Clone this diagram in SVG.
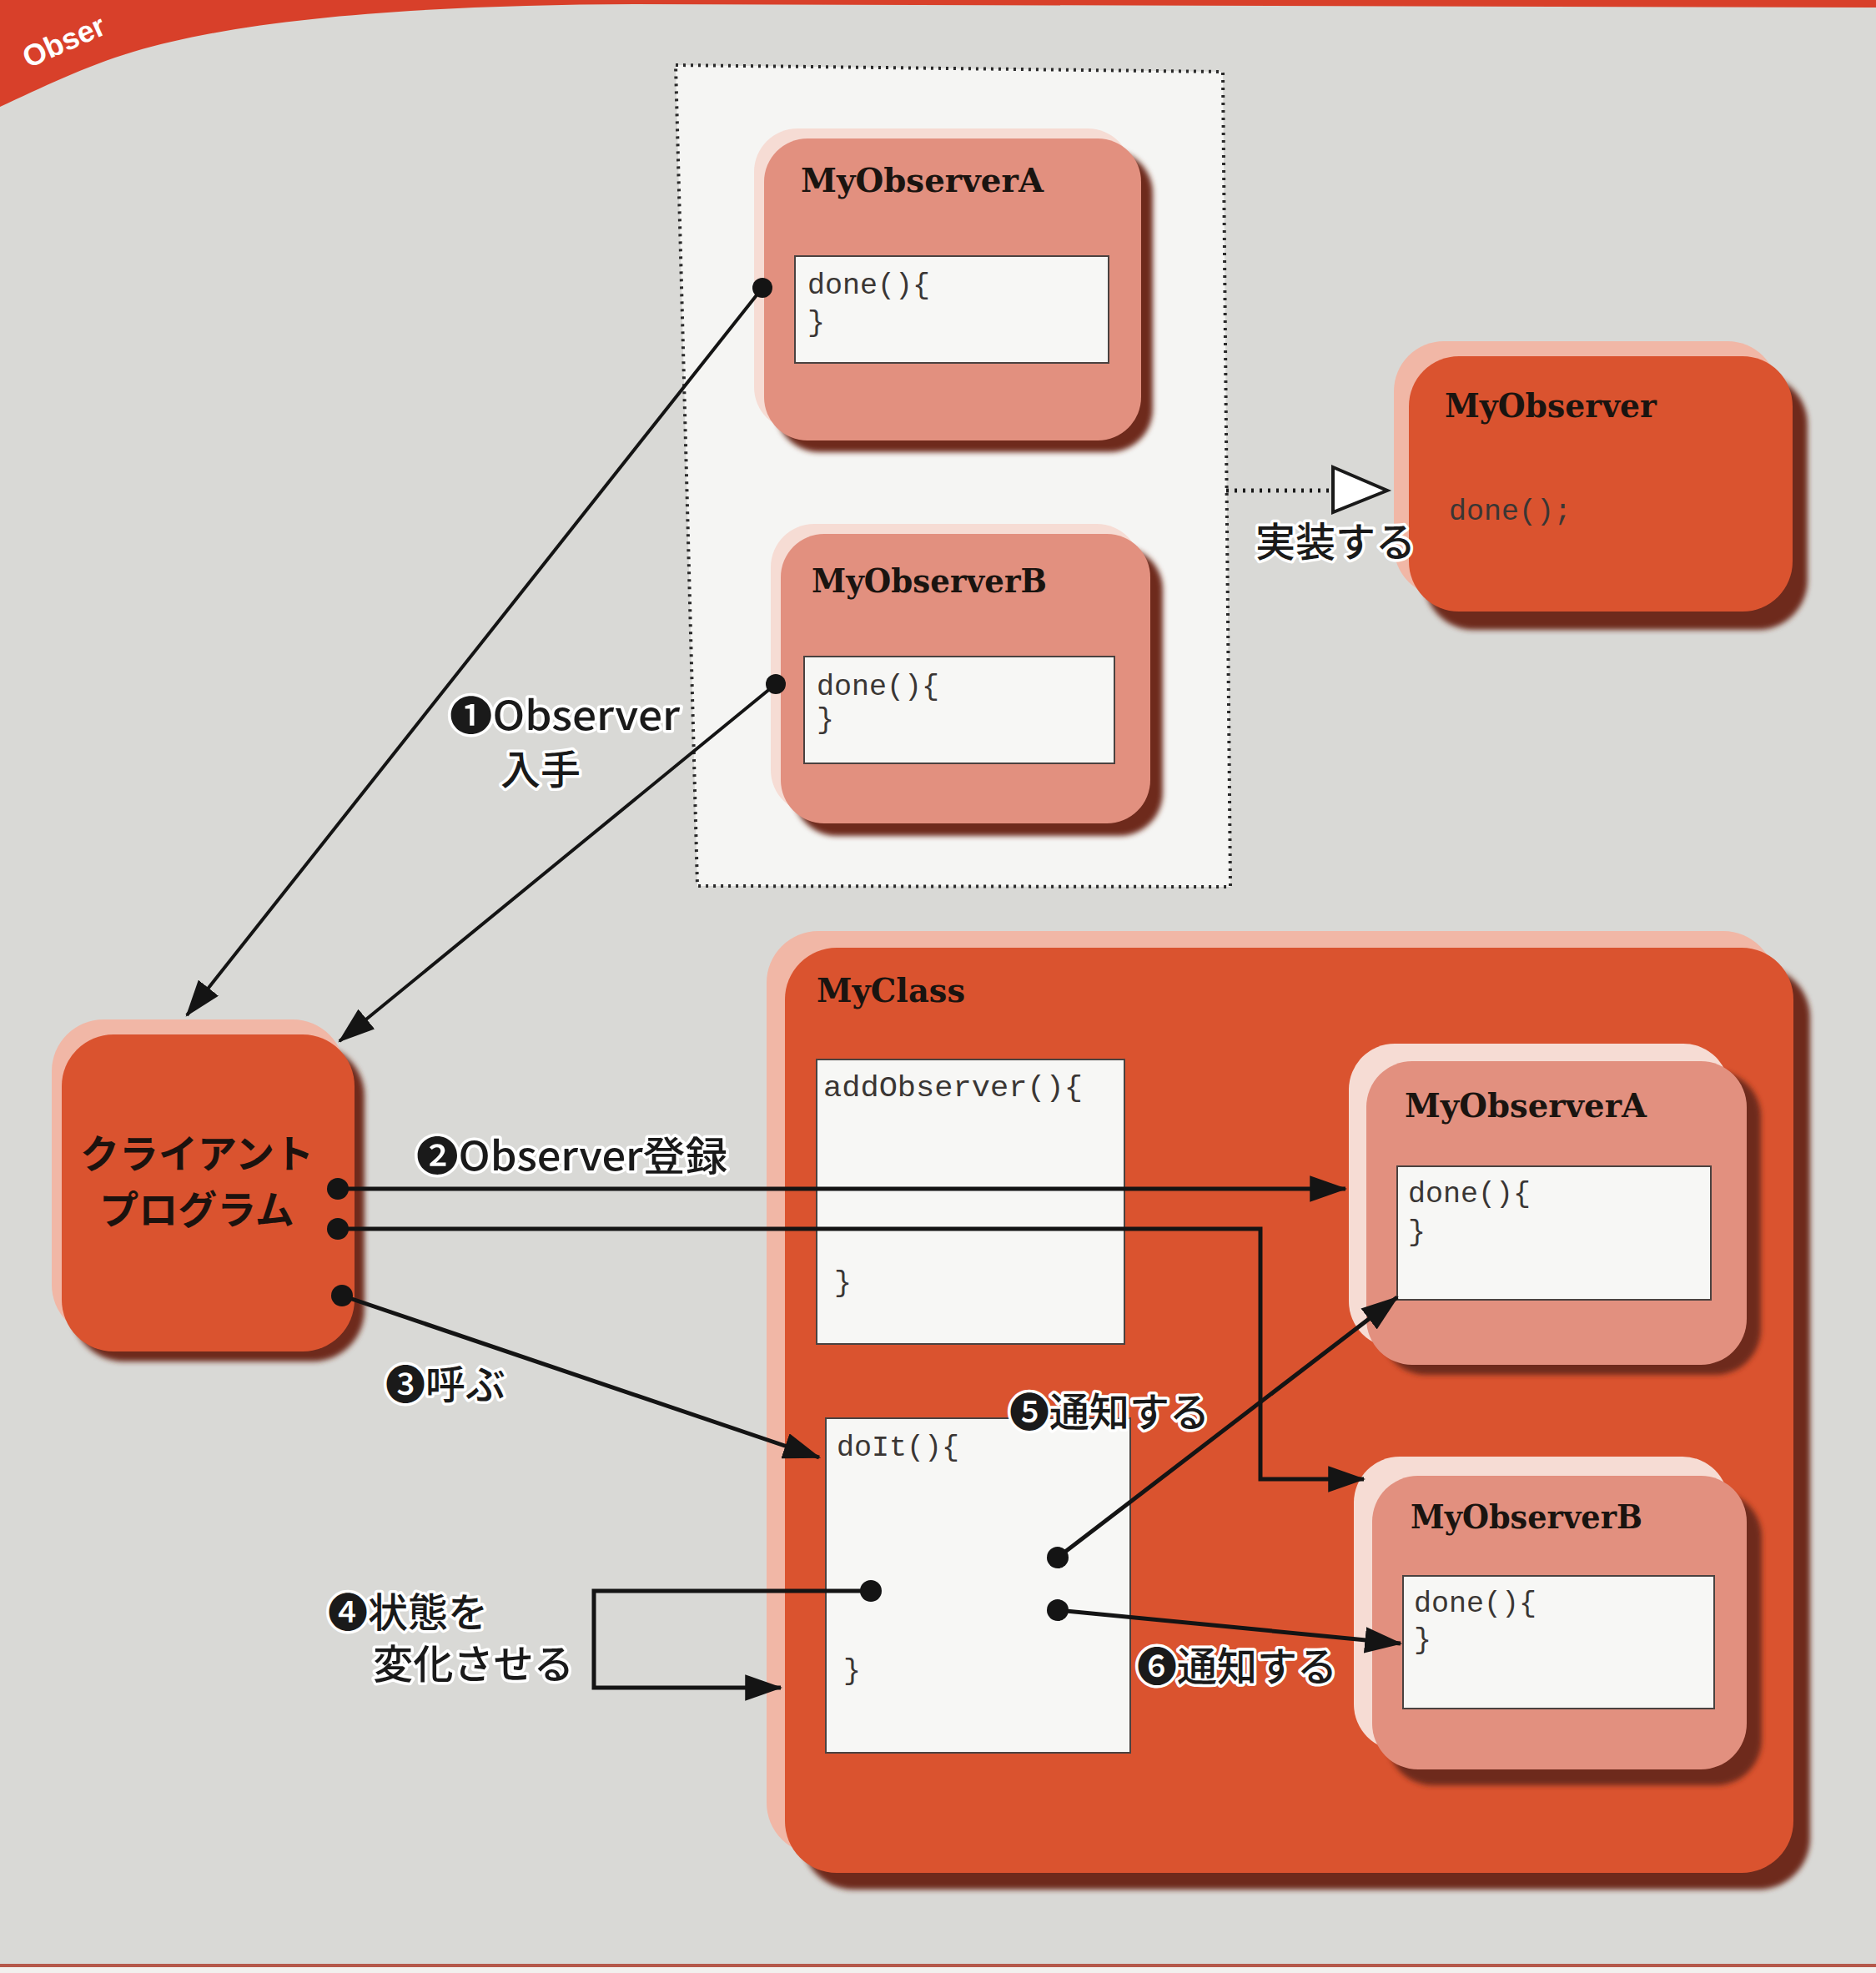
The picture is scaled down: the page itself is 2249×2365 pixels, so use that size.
<svg xmlns="http://www.w3.org/2000/svg" width="2249" height="2365" viewBox="0 0 2249 2365">
<style>
.title{font-family:"DejaVu Serif","Liberation Serif",serif;font-weight:bold;font-size:40px;fill:#1a1410}
.code{font-family:"Liberation Mono","DejaVu Sans Mono",monospace;font-size:35px;fill:#3a3634}
.lbl{font-family:"Noto Sans CJK JP","Noto Sans",sans-serif;font-weight:500;font-size:48px;fill:#1a1a1a;stroke:#ffffff;stroke-width:7px;stroke-linejoin:round;paint-order:stroke}
.clientTxt{font-family:"Noto Sans CJK JP",sans-serif;font-weight:bold;font-size:47px;fill:#1c120e;text-anchor:middle}
.salmon{fill:#e2907f}
.orange{fill:#da532f}
.hlS{fill:#f6dcd4}
.hlO{fill:#f1b7a6}
.sh{fill:#6e2a1c;filter:url(#soft)}
.wbox{fill:#f7f7f5;stroke:#4a4240;stroke-width:2}
.conn{fill:none;stroke:#141414;stroke-width:5}
.thin{fill:none;stroke:#141414;stroke-width:4}
.dot{fill:#141414}
</style>
<defs>
<filter id="soft" x="-10%" y="-10%" width="120%" height="120%"><feGaussianBlur stdDeviation="3"/></filter>
<marker id="arr" viewBox="0 0 10 7" refX="9.5" refY="3.5" markerWidth="9" markerHeight="6.3" markerUnits="strokeWidth" orient="auto"><path d="M0,0 L10,3.5 L0,7 Z" fill="#141414"/></marker>
<marker id="arrT" viewBox="0 0 10 7" refX="9.5" refY="3.5" markerWidth="11" markerHeight="7.7" markerUnits="strokeWidth" orient="auto"><path d="M0,0 L10,3.5 L0,7 Z" fill="#141414"/></marker>
</defs>

<!-- page background -->
<rect x="0" y="0" width="2249" height="2365" fill="#d9d9d6"/>
<path d="M0,0 L2249,0 L2249,9 L760,5 C520,6 300,20 160,62 C100,80 50,105 0,128 Z" fill="#d8402a"/>
<text x="34" y="82" transform="rotate(-24 34 82)" font-family="Liberation Sans,Arial,sans-serif" font-weight="bold" font-size="36" fill="#ffffff">Obser</text>
<rect x="0" y="2354" width="2249" height="4" fill="#b5584a"/>
<rect x="0" y="2358" width="2249" height="7" fill="#f2f0ee"/>

<!-- dotted implementation area -->
<g id="observers-area">
<polygon points="810,78 1466,86 1475,1063 836,1062" fill="#f5f5f3" stroke="#2a2a2a" stroke-width="4" stroke-dasharray="3,6"/>
</g>

<!-- MyObserverA (top) -->
<g id="myObserverA-top">
<rect class="sh" x="930" y="180" width="452" height="362" rx="52"/>
<rect class="hlS" x="904" y="154" width="452" height="362" rx="52"/>
<rect class="salmon" x="916" y="166" width="452" height="362" rx="52"/>
<text class="title" x="960" y="230" textLength="291" lengthAdjust="spacingAndGlyphs">MyObserverA</text>
<rect class="wbox" x="953" y="307" width="376" height="128"/>
<text class="code" x="968" y="352">done(){</text>
<text class="code" x="968" y="397">}</text>
</g>

<!-- MyObserverB (top) -->
<g id="myObserverB-top">
<rect class="sh" x="951" y="655" width="443" height="347" rx="52"/>
<rect class="hlS" x="924" y="628" width="443" height="347" rx="52"/>
<rect class="salmon" x="936" y="640" width="443" height="347" rx="52"/>
<text class="title" x="973" y="710" textLength="282" lengthAdjust="spacingAndGlyphs">MyObserverB</text>
<rect class="wbox" x="964" y="787" width="372" height="128"/>
<text class="code" x="979" y="833">done(){</text>
<text class="code" x="979" y="873">}</text>
</g>

<!-- MyObserver interface -->
<g id="myObserver">
<rect class="sh" x="1707" y="449" width="460" height="306" rx="60"/>
<rect class="hlO" x="1671" y="409" width="460" height="306" rx="60"/>
<rect class="orange" x="1689" y="427" width="460" height="306" rx="60"/>
<text class="title" x="1732" y="500" textLength="254" lengthAdjust="spacingAndGlyphs">MyObserver</text>
<text class="code" x="1737" y="623" fill="#4a2418">done();</text>
</g>

<!-- Client program -->
<g id="client">
<rect class="sh" x="86" y="1252" width="351" height="380" rx="62"/>
<rect class="hlO" x="62" y="1222" width="351" height="380" rx="62"/>
<rect class="orange" x="74" y="1240" width="351" height="380" rx="62"/>
<text class="clientTxt" x="236" y="1400">クライアント</text>
<text class="clientTxt" x="236" y="1467">プログラム</text>
</g>

<!-- MyClass -->
<g id="myClass">
<rect class="sh" x="961" y="1158" width="1209" height="1107" rx="62"/>
<rect class="hlO" x="919" y="1116" width="1209" height="1107" rx="62"/>
<rect class="orange" x="941" y="1136" width="1209" height="1109" rx="62"/>
<text class="title" x="979" y="1201" textLength="178" lengthAdjust="spacingAndGlyphs">MyClass</text>
</g>

<g id="addObserver">
<rect class="wbox" x="979" y="1270" width="369" height="341" stroke-width="1.5"/>
<text class="code" x="987" y="1314" textLength="311" lengthAdjust="spacingAndGlyphs">addObserver(){</text>
<text class="code" x="1000" y="1548">}</text>
</g>

<g id="doIt">
<rect class="wbox" x="990" y="1700" width="365" height="401" stroke-width="1.5"/>
<text class="code" x="1003" y="1745">doIt(){</text>
<text class="code" x="1011" y="2013">}</text>
</g>

<!-- MyObserverA (inside MyClass) -->
<g id="myObserverA-inner">
<rect class="sh" x="1655" y="1284" width="456" height="364" rx="55"/>
<rect class="hlS" x="1617" y="1251" width="456" height="364" rx="55"/>
<rect class="salmon" x="1638" y="1272" width="456" height="364" rx="55"/>
<text class="title" x="1684" y="1339" textLength="290" lengthAdjust="spacingAndGlyphs">MyObserverA</text>
<rect class="wbox" x="1675" y="1398" width="376" height="160"/>
<text class="code" x="1688" y="1441">done(){</text>
<text class="code" x="1688" y="1487">}</text>
</g>

<!-- MyObserverB (inside MyClass) -->
<g id="myObserverB-inner">
<rect class="sh" x="1663" y="1788" width="449" height="352" rx="55"/>
<rect class="hlS" x="1623" y="1746" width="449" height="352" rx="55"/>
<rect class="salmon" x="1645" y="1769" width="449" height="352" rx="55"/>
<text class="title" x="1691" y="1832" textLength="278" lengthAdjust="spacingAndGlyphs">MyObserverB</text>
<rect class="wbox" x="1682" y="1889" width="373" height="159"/>
<text class="code" x="1695" y="1932">done(){</text>
<text class="code" x="1695" y="1976">}</text>
</g>

<!-- connectors -->
<g id="connectors">
<line class="thin" x1="914" y1="345" x2="224" y2="1217" marker-end="url(#arrT)"/>
<line class="thin" x1="930" y1="820" x2="407" y2="1248" marker-end="url(#arrT)"/>
<line class="conn" x1="405" y1="1425" x2="1613" y2="1425" marker-end="url(#arr)"/>
<polyline class="conn" points="405,1473 1511,1473 1511,1773 1635,1773" marker-end="url(#arr)"/>
<line class="conn" x1="410" y1="1553" x2="982" y2="1747" marker-end="url(#arr)"/>
<polyline class="conn" points="1044,1907 712,1907 712,2023 936,2023" marker-end="url(#arr)"/>
<line class="conn" x1="1268" y1="1867" x2="1675" y2="1555" marker-end="url(#arr)"/>
<line class="conn" x1="1268" y1="1930" x2="1679" y2="1970" marker-end="url(#arr)"/>
<line x1="1470" y1="588" x2="1598" y2="588" stroke="#1a1a1a" stroke-width="5" stroke-dasharray="3,7"/>
<polygon points="1598,560 1663,588 1598,614" fill="#ffffff" stroke="#1a1a1a" stroke-width="4" stroke-linejoin="miter"/>
<circle class="dot" cx="914" cy="345" r="12"/>
<circle class="dot" cx="930" cy="820" r="12"/>
<circle class="dot" cx="405" cy="1425" r="13"/>
<circle class="dot" cx="405" cy="1473" r="13"/>
<circle class="dot" cx="410" cy="1553" r="13"/>
<circle class="dot" cx="1044" cy="1907" r="13"/>
<circle class="dot" cx="1268" cy="1867" r="13"/>
<circle class="dot" cx="1268" cy="1930" r="13"/>
</g>

<!-- labels -->
<g id="labels">
<text class="lbl" x="539" y="875" textLength="276" lengthAdjust="spacingAndGlyphs">❶Observer</text>
<text class="lbl" x="600" y="940">入手</text>
<text class="lbl" x="499" y="1403" textLength="373" lengthAdjust="spacingAndGlyphs">❷Observer登録</text>
<text class="lbl" x="462" y="1677">❸呼ぶ</text>
<text class="lbl" x="393" y="1950" font-size="45">❹状態を</text>
<text class="lbl" x="447" y="2012" font-size="45" textLength="241" lengthAdjust="spacingAndGlyphs">変化させる</text>
<text class="lbl" x="1210" y="1710">❺通知する</text>
<text class="lbl" x="1363" y="2015">❻通知する</text>
<text class="lbl" x="1505" y="667">実装する</text>
</g>
</svg>
